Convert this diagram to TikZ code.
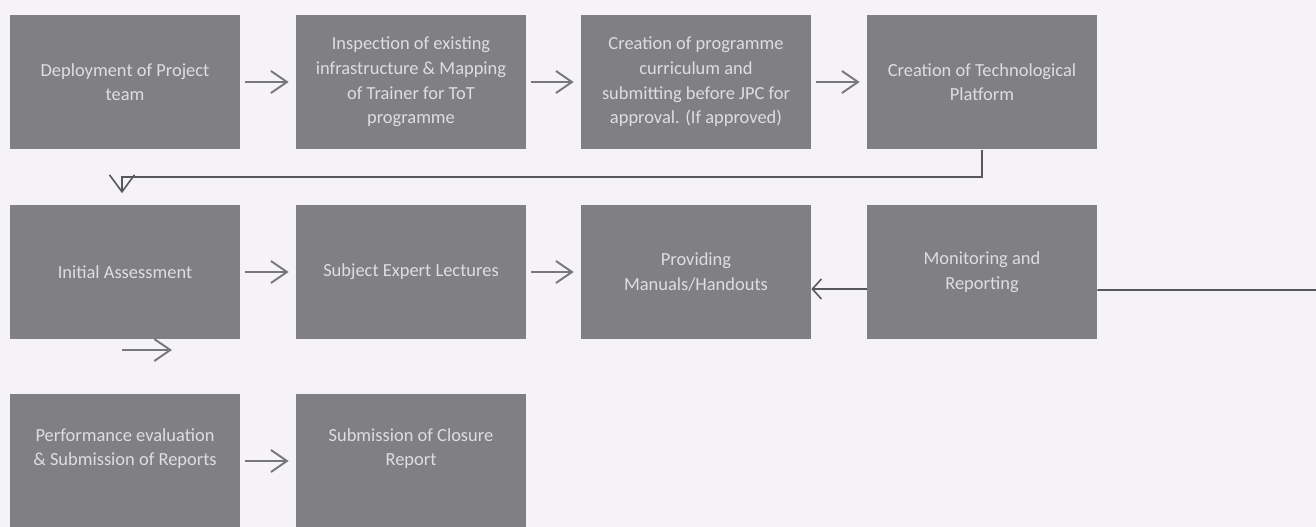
\documentclass[tikz,border=0pt]{standalone}
\usepackage{fontspec}
\setmainfont{Carlito}
\usepackage{tikz}
\usetikzlibrary{arrows.meta,positioning}
\definecolor{boxgray}{RGB}{128,127,130}
\definecolor{txtgray}{RGB}{222,221,226}
\definecolor{arrgray}{RGB}{120,119,124}
\definecolor{lnkgray}{RGB}{88,87,92}
\definecolor{pagebg}{RGB}{245,243,248}

\begin{document}
\begin{tikzpicture}[x=0.02cm, y=-0.02cm,
  stepbox/.style={fill=boxgray, text=txtgray, font=\fontsize{10.5}{14}\selectfont, align=center, minimum width=4.6cm, minimum height=2.7cm, inner sep=2pt},
  flow/.style={draw=arrgray, line width=1.1pt, -{Straight Barb[length=3.2mm, width=4.4mm]}, shorten <=0.1cm, shorten >=0.14cm},
  link/.style={draw=lnkgray, line width=0.9pt}]
\fill[pagebg] (0,0) rectangle (1316,527);
\useasboundingbox (0,0) rectangle (1316,527);
% Row 1: preparation
\node[stepbox] (team) at (125,82) {Deployment of Project\\team};
\node[stepbox] (infra) at (411,82) {Inspection of existing\\infrastructure \& Mapping\\of Trainer for ToT\\programme};
\node[stepbox] (curr) at (696,82) {Creation of programme\\curriculum and\\submitting before JPC for\\approval. (If approved)};
\node[stepbox] (plat) at (982,82) {Creation of Technological\\Platform};
% Row 2: delivery
\node[stepbox] (assess) at (125,272) {Initial Assessment};
\node[stepbox] (lect) at (411,272) {Subject Expert Lectures};
\node[stepbox] (manual) at (696,272) {Providing\\Manuals/Handouts};
\node[stepbox] (monit) at (982,272) {Monitoring and\\Reporting};
% Row 3: closure (text sits high in the box)
\node[stepbox, text depth=0.55cm] (perf) at (125,461) {Performance evaluation\\\& Submission of Reports};
\node[stepbox, text depth=0.55cm] (closure) at (411,461) {Submission of Closure\\Report};
% Loose ends
\coordinate (edge) at (1316,290);
\coordinate (stubA) at (122,350);
\coordinate (stubB) at (172,350);
% Arrows
\draw[flow] (team) -- (infra);
\draw[flow] (infra) -- (curr);
\draw[flow] (curr) -- (plat);
\draw[link, -{Straight Barb[length=3.4mm, width=5mm]}, shorten >=0.22cm] (plat.south) -- ++(0,27) -| ([xshift=-0.06cm]assess.north);
\draw[flow] (assess) -- (lect);
\draw[flow] (lect) -- (manual);
\draw[link, -{Straight Barb[length=1.8mm, width=4mm]}] ([yshift=-0.34cm]monit.west) -- ([yshift=-0.34cm]manual.east);
\draw[link] ([yshift=-0.36cm]monit.east) -- (edge);
\draw[flow, shorten <=0pt, shorten >=0pt] (stubA) -- (stubB);
\draw[flow] (perf) -- (closure);
\end{tikzpicture}
\end{document}
